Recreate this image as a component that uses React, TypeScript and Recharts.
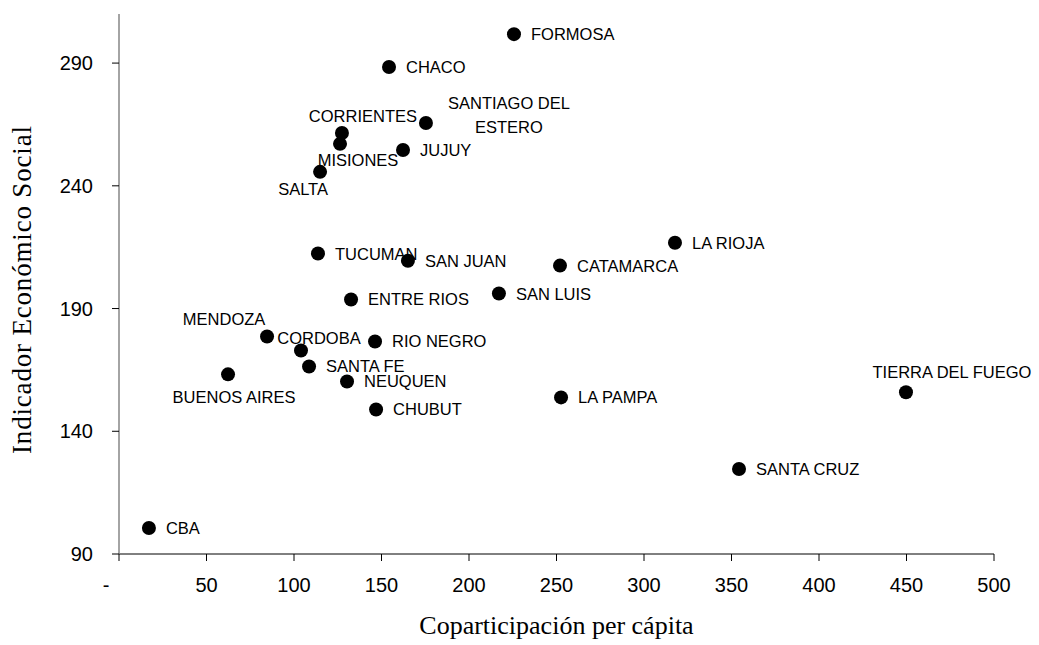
import React from 'react';
import { ScatterChart, Scatter, XAxis, YAxis, Label } from 'recharts';

const provinces = [
  'FORMOSA', 'CHACO', 'SANTIAGO DEL ESTERO', 'CORRIENTES', 'MISIONES', 'JUJUY', 'SALTA',
  'LA RIOJA', 'TUCUMAN', 'SAN JUAN', 'CATAMARCA', 'SAN LUIS', 'ENTRE RIOS', 'MENDOZA',
  'CORDOBA', 'RIO NEGRO', 'SANTA FE', 'BUENOS AIRES', 'NEUQUEN', 'CHUBUT', 'LA PAMPA',
  'TIERRA DEL FUEGO', 'SANTA CRUZ', 'CBA',
];
const coparticipacion = [
  225.7, 154.3, 175.4, 127.4, 126.3, 162.3, 114.9,
  317.7, 113.7, 165.1, 252.0, 217.1, 132.6, 84.6,
  104.0, 146.3, 108.6, 62.3, 130.3, 146.9, 252.6,
  449.7, 354.3, 17.1,
];
const indicador = [
  301.8, 288.4, 265.6, 261.5, 257.1, 254.6, 245.7,
  216.8, 212.4, 209.5, 207.5, 196.1, 193.7, 178.6,
  172.9, 176.6, 166.4, 163.2, 160.3, 148.9, 153.8,
  155.9, 124.6, 100.6,
];
const xTicks = [0, 50, 100, 150, 200, 250, 300, 350, 400, 450, 500];
const yTicks = [90, 140, 190, 240, 290];

const points = provinces.map((name, i) => ({ name, x: coparticipacion[i], y: indicador[i] }));

// where each label sits relative to its dot (default: to the right)
const labelPlacement: Record<string, { dx: number; dy: number; anchor: 'start' | 'middle' | 'end'; lines?: string[] }> = {
  'SANTIAGO DEL ESTERO': { dx: 83, dy: -20, anchor: 'middle', lines: ['SANTIAGO DEL', 'ESTERO'] },
  CORRIENTES: { dx: 21, dy: -17, anchor: 'middle' },
  MISIONES: { dx: 18, dy: 16, anchor: 'middle' },
  SALTA: { dx: -17, dy: 17, anchor: 'middle' },
  MENDOZA: { dx: -43, dy: -18, anchor: 'middle' },
  CORDOBA: { dx: 18, dy: -13, anchor: 'middle' },
  'BUENOS AIRES': { dx: 6, dy: 23, anchor: 'middle' },
  'TIERRA DEL FUEGO': { dx: 46, dy: -20, anchor: 'middle' },
};

const labelFont = '"Liberation Sans", Arial, sans-serif';
const titleFont = '"Liberation Serif", "Times New Roman", serif';

const Dot = (props: any) => {
  const { cx, cy, payload } = props;
  const p = labelPlacement[payload.name] || { dx: 17, dy: 0, anchor: 'start' };
  const lines = p.lines || [payload.name];
  return (
    <g>
      <circle cx={cx} cy={cy} r={7} fill="#000" />
      {lines.map((l, i) => (
        <text
          key={i}
          x={cx + p.dx}
          y={cy + p.dy + i * 24}
          textAnchor={p.anchor}
          dominantBaseline="central"
          fontFamily={labelFont}
          fontSize={16.5}
          fill="#000"
        >
          {l}
        </text>
      ))}
    </g>
  );
};

const XTick = (props: any) => {
  const { x, y, payload } = props;
  const v = payload.value;
  return (
    <text x={v === 0 ? x - 13 : x} y={y + 29} textAnchor="middle" fontFamily={labelFont} fontSize={20} fill="#000">
      {v === 0 ? '-' : v}
    </text>
  );
};

const YTick = (props: any) => {
  const { x, y, payload } = props;
  return (
    <text x={x} y={y} textAnchor="end" dominantBaseline="central" fontFamily={labelFont} fontSize={20} fill="#000">
      {payload.value}
    </text>
  );
};

const XTitle = (props: any) => {
  const { viewBox } = props;
  const cx = viewBox.x + viewBox.width / 2;
  return (
    <text x={cx} y={viewBox.y + 80} textAnchor="middle" fontFamily={titleFont} fontSize={26} fill="#000">
      Coparticipación per cápita
    </text>
  );
};

const YTitle = (props: any) => {
  const { viewBox } = props;
  const cy = viewBox.y + viewBox.height / 2 + 6;
  const x = 31;
  return (
    <text
      x={x}
      y={cy}
      transform={`rotate(-90, ${x}, ${cy})`}
      textAnchor="middle"
      fontFamily={titleFont}
      fontSize={27}
      textLength={328}
      lengthAdjust="spacing"
      fill="#000"
    >
      Indicador Económico Social
    </text>
  );
};

export default function App() {
  return (
    <div style={{ position: 'absolute', left: 0, top: 0, width: 1039, height: 645, background: '#fff' }}>
      <ScatterChart width={1039} height={645} margin={{ top: 14, right: 45, bottom: 41, left: 49 }}>
        <XAxis
          type="number"
          dataKey="x"
          domain={[0, 500]}
          ticks={xTicks}
          interval={0}
          height={50}
          tickSize={7}
          tickMargin={2}
          axisLine={{ stroke: '#000', strokeWidth: 1 }}
          tickLine={{ stroke: '#000' }}
          tick={<XTick />}
        >
          <Label content={<XTitle />} />
        </XAxis>
        <YAxis
          type="number"
          dataKey="y"
          domain={[90, 310]}
          ticks={yTicks}
          interval={0}
          width={70}
          tickSize={7}
          tickMargin={19}
          axisLine={{ stroke: '#868686', strokeWidth: 1.5 }}
          tickLine={{ stroke: '#000' }}
          tick={<YTick />}
        >
          <Label content={<YTitle />} />
        </YAxis>
        <Scatter data={points} shape={<Dot />} isAnimationActive={false} />
      </ScatterChart>
    </div>
  );
}
